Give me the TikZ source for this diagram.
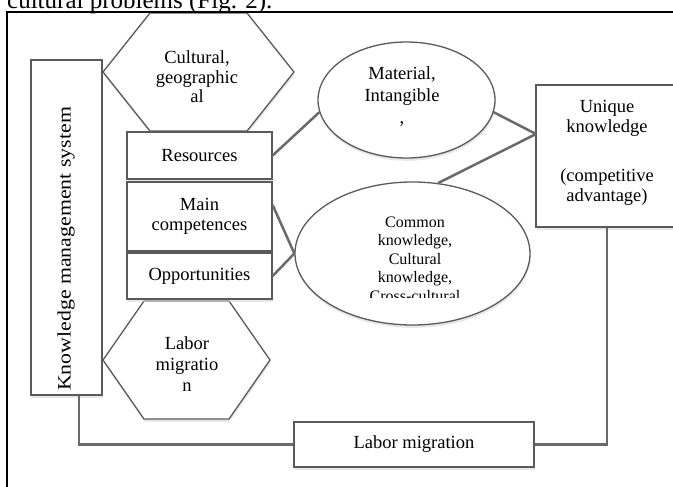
\documentclass[tikz,border=0pt]{standalone}
\usepackage{fontspec}
\setmainfont{Liberation Serif}
\usepackage{graphicx}
\usetikzlibrary{shapes.geometric,shadows}
\definecolor{edgegray}{HTML}{5A5A5A}
\definecolor{conngray}{HTML}{6A6A6A}
\begin{document}
\begin{tikzpicture}[x=1pt,y=-1pt,
  shp/.style={draw=edgegray, line width=1.3pt, fill=white,
    drop shadow={shadow xshift=0.6pt, shadow yshift=-2.8pt, fill=black!18}},
  boxn/.style={shp, rectangle, inner sep=0pt},
  ell/.style={shp, ellipse, inner sep=0pt},
  txt/.style={align=center, inner sep=0pt, font=\fontsize{18.5}{20}\selectfont},
  conline/.style={draw=conngray, line width=2.5pt},
]
\useasboundingbox (0,0) rectangle (673,487);
\clip (0,0) rectangle (673,487);
\fill[white] (0,0) rectangle (673,487);

% cut-off line of text above the figure
\node[anchor=base west, inner sep=0pt, font=\fontsize{25}{28}\selectfont] (cap) at (7,9) {cultural problems (Fig. 2).};

% hexagons
\draw[shp] (150,13) -- (247,13) -- (294,72) -- (247,131) -- (150,131) -- (103,72) -- cycle;
\node[txt, font=\fontsize{18.5}{19.5}\selectfont] (hexat) at (197,77) {Cultural,\\geographic\\al};
\draw[shp] (144,301) -- (229,301) -- (270,360) -- (229,419) -- (144,419) -- (103,360) -- cycle;
\node[txt, font=\fontsize{18.5}{21}\selectfont] (hexbt) at (187,364) {Labor\\migratio\\n};

% knowledge management system
\node[boxn, minimum width=71pt, minimum height=335pt] (kms) at (66.5,227.5) {};
\node[inner sep=0pt, rotate=90, font=\fontsize{19}{20}\selectfont] (kmst) at (66,249) {\scalebox{1.15}[1]{Knowledge management system}};

% stack
\node[boxn, txt, minimum width=145pt, minimum height=47pt] (res) at (199.5,155.5) {Resources};
\node[boxn, txt, minimum width=145pt, minimum height=69pt] (main) at (199.5,216.5) {Main\\competences};
\node[boxn, txt, minimum width=145pt, minimum height=46pt] (opp) at (199.5,276) {Opportunities};

% ellipses
\node[ell, minimum width=177pt, minimum height=116pt] (mat) at (406.5,100) {};
\node[txt, font=\fontsize{18.5}{22}\selectfont] (matt) at (402,97) {Material,\\Intangible\\,};
\node[ell, minimum width=235pt, minimum height=143pt] (com) at (412.5,253.5) {};
\begin{scope}
  \clip (290,170) rectangle (545,297.5);
  \node[txt, font=\fontsize{16}{18.5}\selectfont, anchor=north] (comt) at (415,216.5) {Common\\knowledge,\\Cultural\\knowledge,\\Cross-cultural};
\end{scope}

% unique knowledge
\node[boxn, minimum width=142pt, minimum height=142pt] (uk) at (607,156) {};
\node[txt] (ukt) at (607,153) {Unique\\knowledge\\[29pt](competitive\\advantage)};

% labor migration
\node[boxn, txt, minimum width=240pt, minimum height=45pt] (lab) at (414,444.5) {Labor migration};

% connectors
\coordinate (ukj) at (536,134);
\draw[conline] (res.east) -- (mat.188);
\draw[conline] (mat.-8) -- (ukj);
\draw[conline] (com.70) -- (ukj);
\draw[conline] ([yshift=11.5pt]main.east) -- (com.west);
\draw[conline] (opp.east) -- (com.west);
\draw[conline] ([xshift=12.5pt]kms.south) |- (lab.west);
\draw[conline] (lab.east) -| (uk.south);

% outer frame
\draw[black, line width=1.7pt] (7,495) -- (7,12) -- (690,12);
\end{tikzpicture}
\end{document}
